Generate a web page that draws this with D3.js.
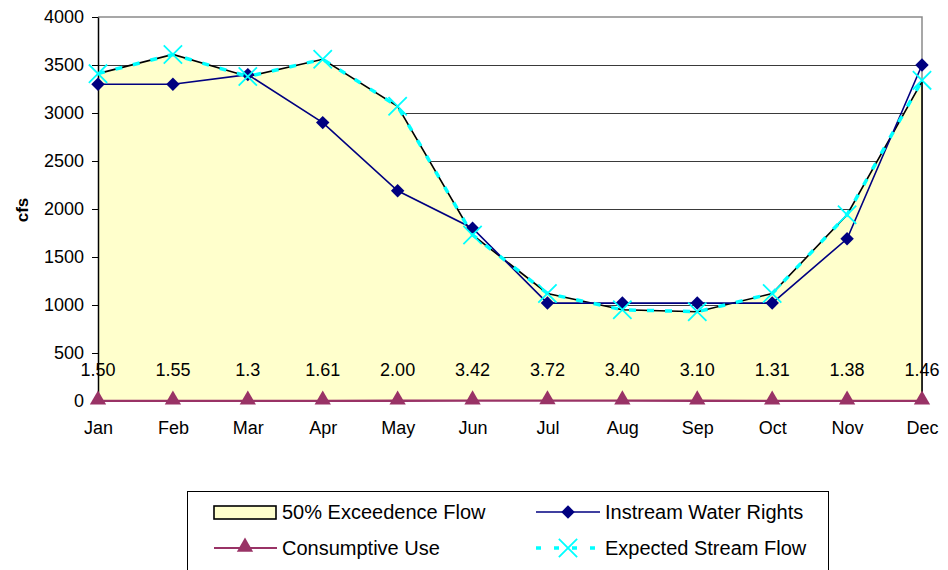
<!DOCTYPE html>
<html>
<head>
<meta charset="utf-8">
<script src="https://cdn.jsdelivr.net/npm/d3@7"></script>
<style>
  html, body { margin: 0; padding: 0; background: #fff; }
  svg { display: block; font-family: "Liberation Sans", Arial, sans-serif; }
</style>
</head>
<body>
<svg id="chart" width="948" height="570"></svg>
<script>
// Monthly flows (cfs)
const months = ["Jan","Feb","Mar","Apr","May","Jun","Jul","Aug","Sep","Oct","Nov","Dec"];
const exceedenceFlow = [3410, 3610, 3380, 3560, 3070, 1730, 1120, 950, 930, 1120, 1940, 3330];
const instreamRights = [3300, 3300, 3400, 2900, 2190, 1800, 1020, 1020, 1020, 1020, 1690, 3500];
const expectedFlow   = [3410, 3610, 3380, 3560, 3070, 1730, 1120, 950, 930, 1120, 1940, 3340];
const consumptiveUse = [1.50, 1.55, 1.3, 1.61, 2.00, 3.42, 3.72, 3.40, 3.10, 1.31, 1.38, 1.46];
const consumptiveLabels = ["1.50","1.55","1.3","1.61","2.00","3.42","3.72","3.40","3.10","1.31","1.38","1.46"];
const yTicks = [0, 500, 1000, 1500, 2000, 2500, 3000, 3500, 4000];

const svg = d3.select("#chart");
const plotLeft = 98, plotRight = 922, plotTop = 17, plotBottom = 401;

const x = d3.scalePoint().domain(months).range([plotLeft, plotRight]);
const y = d3.scaleLinear().domain([0, 4000]).range([plotBottom, plotTop]);

const idx = d3.range(months.length);

// horizontal gridlines (sit behind the filled area)
svg.append("g").selectAll("line").data(yTicks.filter(t => t > 0 && t < 4000)).join("line")
  .attr("x1", plotLeft).attr("x2", plotRight)
  .attr("y1", d => Math.round(y(d)) + 0.5).attr("y2", d => Math.round(y(d)) + 0.5)
  .attr("stroke", "#3a3a3a").attr("stroke-width", 1);

// plot frame (top and right)
svg.append("path")
  .attr("d", `M${plotLeft},${y(4000)}H${plotRight}V${y(0)}`)
  .attr("fill", "none").attr("stroke", "#8a8a8a").attr("stroke-width", 1.5);

// 50% exceedence flow area
const area = d3.area().x(i => x(months[i])).y0(y(0)).y1(i => y(exceedenceFlow[i]));
svg.append("path").datum(idx).attr("d", area)
  .attr("fill", "#FFFFCC").attr("stroke", "none");
const outline = d3.line().x(i => x(months[i])).y(i => y(exceedenceFlow[i]));
svg.append("path").datum(idx).attr("d", outline)
  .attr("fill", "none").attr("stroke", "#000").attr("stroke-width", 1.6);
// right edge of the area
svg.append("line")
  .attr("x1", x("Dec")).attr("x2", x("Dec"))
  .attr("y1", y(exceedenceFlow[11])).attr("y2", y(0))
  .attr("stroke", "#000").attr("stroke-width", 1.6);

// y axis
const yAxis = d3.axisLeft(y).tickValues(yTicks).tickFormat(d3.format("d"))
  .tickSize(6).tickPadding(8).tickSizeOuter(0);
const ya = svg.append("g").attr("transform", `translate(${plotLeft},0)`).call(yAxis);
ya.select(".domain").attr("stroke", "#000").attr("stroke-width", 1.5);
ya.selectAll(".tick line").attr("stroke", "#000");
ya.selectAll(".tick text").attr("font-size", 18).attr("fill", "#000")
  .attr("font-family", "Liberation Sans, Arial, sans-serif");

// x axis labels
const xAxis = d3.axisBottom(x).tickSize(0).tickPadding(20);
const xa = svg.append("g").attr("transform", `translate(0,${plotBottom})`).call(xAxis);
xa.select(".domain").remove();
xa.selectAll(".tick text").attr("font-size", 18).attr("fill", "#000")
  .attr("font-family", "Liberation Sans, Arial, sans-serif");

// y axis title
svg.append("text")
  .attr("transform", `translate(28,210) rotate(-90)`)
  .attr("text-anchor", "middle")
  .attr("font-size", 17).attr("font-weight", "bold").text("cfs");

// consumptive use
const cuLine = d3.line().x(i => x(months[i])).y(i => y(consumptiveUse[i]));
svg.append("path").datum(idx).attr("d", cuLine)
  .attr("fill", "none").attr("stroke", "#993366").attr("stroke-width", 2.4);
const tri = d3.symbol().type(d3.symbolTriangle).size(115);
svg.append("g").selectAll("path").data(idx).join("path")
  .attr("d", tri)
  .attr("transform", i => `translate(${x(months[i])},${y(consumptiveUse[i]) - 1})`)
  .attr("fill", "#993366");
svg.append("g").selectAll("text").data(idx).join("text")
  .attr("x", i => x(months[i])).attr("y", i => y(consumptiveUse[i]) - 25)
  .attr("text-anchor", "middle").attr("font-size", 18).attr("fill", "#000")
  .text(i => consumptiveLabels[i]);

// instream water rights
const irLine = d3.line().x(i => x(months[i])).y(i => y(instreamRights[i]));
svg.append("path").datum(idx).attr("d", irLine)
  .attr("fill", "none").attr("stroke", "#000080").attr("stroke-width", 1.6);
const diamond = d3.symbol().type(d3.symbolDiamond2).size(115);
svg.append("g").selectAll("path").data(idx).join("path")
  .attr("d", diamond)
  .attr("transform", i => `translate(${x(months[i])},${y(instreamRights[i])})`)
  .attr("fill", "#000080");

// expected stream flow
const efLine = d3.line().x(i => x(months[i])).y(i => y(expectedFlow[i]));
svg.append("path").datum(idx).attr("d", efLine)
  .attr("fill", "none").attr("stroke", "#00FFFF").attr("stroke-width", 3.5)
  .attr("stroke-dasharray", "7,11");
const cross = d3.symbol().type(d3.symbolX).size(220);
svg.append("g").selectAll("path").data(idx).join("path")
  .attr("d", cross)
  .attr("transform", i => `translate(${x(months[i])},${y(expectedFlow[i])})`)
  .attr("fill", "none").attr("stroke", "#00FFFF").attr("stroke-width", 1.8);

// legend
const lg = svg.append("g");
lg.append("rect").attr("x", 187.5).attr("y", 491.5).attr("width", 641).attr("height", 100)
  .attr("fill", "#fff").attr("stroke", "#000").attr("stroke-width", 1);
const row1 = 512, row2 = 548;
lg.append("rect").attr("x", 214).attr("y", 506).attr("width", 62).attr("height", 13)
  .attr("fill", "#FFFFCC").attr("stroke", "#000").attr("stroke-width", 1.6);
lg.append("line").attr("x1", 214).attr("x2", 277).attr("y1", row2).attr("y2", row2)
  .attr("stroke", "#993366").attr("stroke-width", 2);
lg.append("path").attr("d", tri).attr("transform", `translate(245,${row2 - 1})`).attr("fill", "#993366");
lg.append("line").attr("x1", 536).attr("x2", 600).attr("y1", row1).attr("y2", row1)
  .attr("stroke", "#000080").attr("stroke-width", 1.6);
lg.append("path").attr("d", diamond).attr("transform", `translate(568,${row1})`).attr("fill", "#000080");
lg.append("line").attr("x1", 536).attr("x2", 600).attr("y1", row2).attr("y2", row2)
  .attr("stroke", "#00FFFF").attr("stroke-width", 3.5).attr("stroke-dasharray", "5,13");
lg.append("path").attr("d", cross).attr("transform", `translate(568,${row2})`)
  .attr("fill", "none").attr("stroke", "#00FFFF").attr("stroke-width", 1.8);
const legendText = [
  ["50% Exceedence Flow", 282, row1], ["Consumptive Use", 282, row2],
  ["Instream Water Rights", 605, row1], ["Expected Stream Flow", 605, row2]
];
lg.selectAll("text").data(legendText).join("text")
  .attr("x", d => d[1]).attr("y", d => d[2] + 7)
  .attr("font-size", 20).attr("fill", "#000").text(d => d[0]);
</script>
</body>
</html>
